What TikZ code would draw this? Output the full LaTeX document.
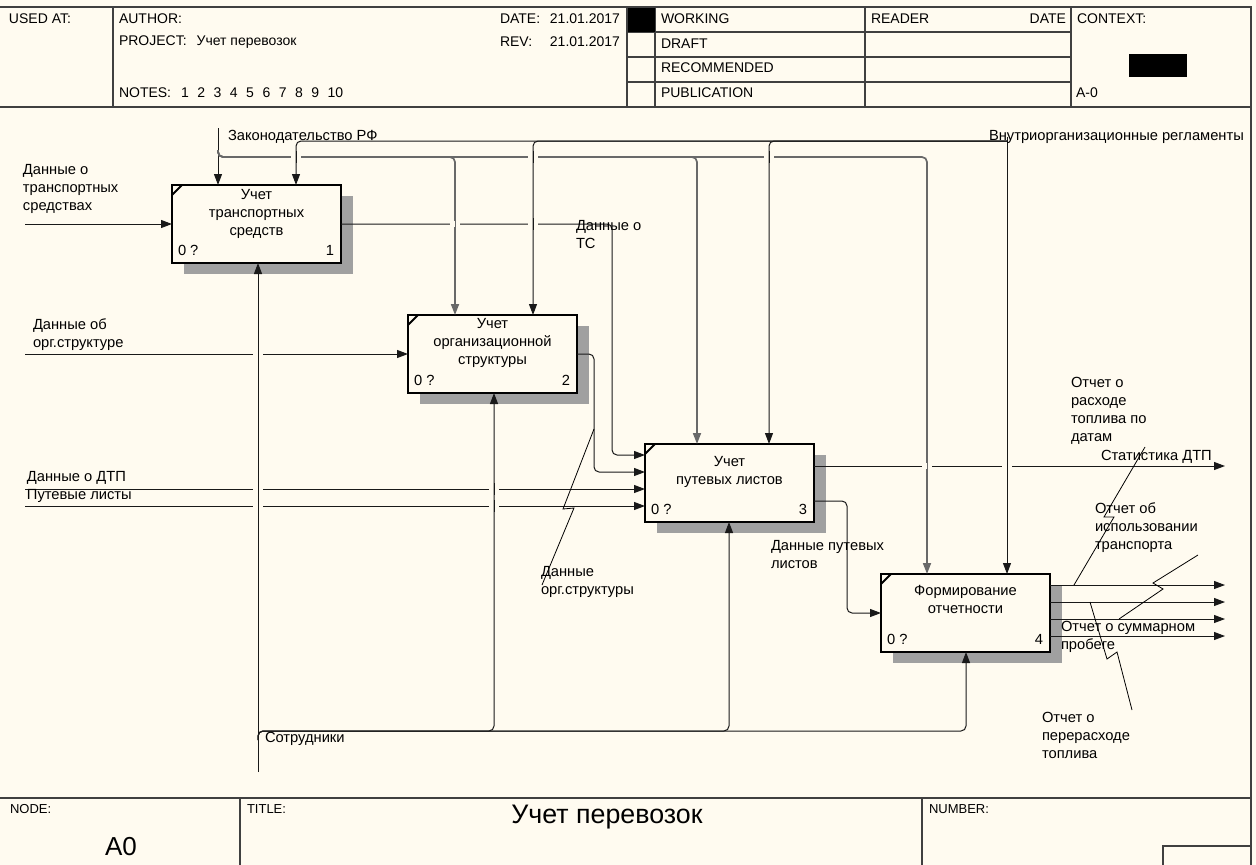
\documentclass[tikz,border=0pt]{standalone}
\usepackage{fontspec}
\setmainfont{Liberation Sans}
\usetikzlibrary{arrows.meta}
\definecolor{bg}{RGB}{255,251,240}
\definecolor{ln}{RGB}{25,25,25}
\definecolor{zk}{RGB}{105,105,105}
\definecolor{shd}{RGB}{160,160,160}
\newcommand\bridgeV[3][ln]{\fill[bg] (#2-5,#3-2.6) rectangle (#2+5,#3+2.6);\draw[draw=#1,line width=1pt] (#2,#3-6) -- (#2,#3+6);}
\tikzset{
  every node/.style={inner sep=0pt,outer sep=0pt},
  fnt/.style={font=\fontsize{14.7}{18}\selectfont},
  hfnt/.style={font=\fontsize{14}{18}\selectfont},
  lbl/.style={fnt,anchor=north west,align=left},
  hdr/.style={hfnt,anchor=west},
  box/.style={draw=black,line width=2pt,fill=bg,minimum width=169pt,minimum height=78pt},
  shadowfill/.style={fill=shd},
  arr/.style={draw=ln,line width=1pt,-{Triangle[length=11pt,width=8pt]},rounded corners=5pt},
  arrz/.style={draw=zk,line width=1.7pt,-{Triangle[length=11pt,width=8pt]},rounded corners=5pt},
  squig/.style={draw=black,line width=0.8pt},
  frame/.style={draw=black!75,line width=1.5pt},
}
\begin{document}
\begin{tikzpicture}[x=1pt,y=-1pt]
\useasboundingbox (0,0) rectangle (1256,865);
\fill[bg] (0,0) rectangle (1256,865);

% ---------- frame / header ----------
\draw[frame] (0,7) -- (1251,7) -- (1251,866);
\draw[frame] (0,107) -- (1251,107);
\draw[frame] (0,798) -- (1251,798);
\draw[frame] (113,7) -- (113,107);
\draw[frame] (627,7) -- (627,107);
\draw[frame] (655,7) -- (655,107);
\draw[frame] (865,7) -- (865,107);
\draw[frame] (1071,7) -- (1071,107);
\draw[frame] (627,32) -- (1071,32);
\draw[frame] (627,57) -- (1071,57);
\draw[frame] (627,82) -- (1071,82);
\fill[black] (628,8) rectangle (655,32);
\fill[black] (1129,54) rectangle (1187,77);
\draw[frame] (240,798) -- (240,866);
\draw[frame] (922,798) -- (922,866);
\draw[frame] (1163,866) -- (1163,846) -- (1251,846);

\node[hdr] (usedat) at (9,19) {USED AT:};
\node[hdr] (author) at (119,19) {AUTHOR:};
\node[hdr] (project) at (119,42) {PROJECT:\hspace{10pt}Учет перевозок};
\node[hdr] (notes) at (119,93) {NOTES:\hspace{10pt}1\hspace{8.5pt}2\hspace{8.5pt}3\hspace{8.5pt}4\hspace{8.5pt}5\hspace{8.5pt}6\hspace{8.5pt}7\hspace{8.5pt}8\hspace{8.5pt}9\hspace{8.5pt}10};
\node[hdr] (date) at (500,19) {DATE:};
\node[hfnt,anchor=east] (dateval) at (620,19) {21.01.2017};
\node[hdr] (rev) at (500,42) {REV:};
\node[hfnt,anchor=east] (revval) at (620,42) {21.01.2017};
\node[hdr] (working) at (661,19) {WORKING};
\node[hdr] (draft) at (661,44) {DRAFT};
\node[hdr] (recom) at (661,68) {RECOMMENDED};
\node[hdr] (publ) at (661,93) {PUBLICATION};
\node[hdr] (reader) at (871,19) {READER};
\node[hfnt,anchor=east] (rdate) at (1066,19) {DATE};
\node[hdr] (context) at (1077,19) {CONTEXT:};
\node[hdr] (actx) at (1076,93) {A-0};

\node[font=\fontsize{13}{16}\selectfont,anchor=west] (nodelbl) at (10,809) {NODE:};
\node[font=\fontsize{13}{16}\selectfont,anchor=west] (titlelbl) at (247,809) {TITLE:};
\node[font=\fontsize{13}{16}\selectfont,anchor=west] (numlbl) at (929,809) {NUMBER:};
\node[font=\fontsize{26}{30}\selectfont] (nodeval) at (121,847) {A0};
\node[font=\fontsize{26.8}{30}\selectfont] (titleval) at (607,817) {Учет перевозок};

% ---------- boxes ----------
\foreach \n/\x/\y in {b1/256.5/224, b2/492.5/354, b3/729.5/483, b4/965.5/613}{
  \fill[shadowfill] (\x-84.5+12,\y-39+11) rectangle (\x+84.5+12,\y+39+11);
}
\node[box] (b1) at (256.5,224) {};
\node[box] (b2) at (492.5,354) {};
\node[box] (b3) at (729.5,483) {};
\node[box] (b4) at (965.5,613) {};
\foreach \b in {b1,b2,b3,b4}{
  \draw[line width=1.8pt] ([shift={(0,10)}]\b.north west) -- ([shift={(10,0)}]\b.north west);
  \node[fnt,anchor=west] (\b zero) at ([shift={(6,-13)}]\b.south west) {0 ?};
}
\node[fnt,anchor=east] (b1num) at ([shift={(-7,-13)}]b1.south east) {1};
\node[fnt,anchor=east] (b2num) at ([shift={(-7,-13)}]b2.south east) {2};
\node[fnt,anchor=east] (b3num) at ([shift={(-7,-13)}]b3.south east) {3};
\node[fnt,anchor=east] (b4num) at ([shift={(-7,-13)}]b4.south east) {4};

\node[fnt,anchor=north,align=center] (t1) at (256.5,189.5) {Учет\\транспортных\\средств};
\node[fnt,anchor=north,align=center] (t2) at (492.5,318.5) {Учет\\организационной\\структуры};
\node[fnt,anchor=north,align=center] (t3) at (729.5,456.5) {Учет\\путевых листов};
\node[fnt,anchor=north,align=center] (t4) at (965.5,585.5) {Формирование\\отчетности};

% ---------- coordinates ----------
\coordinate (inTS) at (25,224);
\coordinate (inOrg) at (25,354);
\coordinate (inDTP) at (25,489);
\coordinate (inPL) at (25,506);
\coordinate (zkTop) at (218,128);
\coordinate (kz0) at (218,150);
\coordinate (kz) at (218,157);
\coordinate (k2) at (455,157);
\coordinate (k3) at (697,157);
\coordinate (k4) at (927,157);
\coordinate (vnTop) at (1007,137);
\coordinate (vn) at (1007,141);
\coordinate (v1) at (296,141);
\coordinate (v2) at (533,141);
\coordinate (v3) at (769,141);
\coordinate (mBot) at (258,772);
\coordinate (m00) at (258,740);
\coordinate (m0) at (258,731);
\coordinate (m2) at (494,731);
\coordinate (m3) at (729,731);
\coordinate (m4) at (966,731);
\coordinate (ts1) at (612,224);
\coordinate (ts2) at (612,455);
\coordinate (or1) at (594,354);
\coordinate (or2) at (594,472);
\coordinate (pl1) at (847,501);
\coordinate (pl2) at (847,613);
\coordinate (outDTP) at (1225,466);
\coordinate (o1) at (1225,585);
\coordinate (o2) at (1225,602);
\coordinate (o3) at (1225,619);
\coordinate (o4) at (1225,636);

% ---------- inputs ----------
\draw[arr] (inTS) -- (inTS -| b1.west);
\draw[arr] (inOrg) -- (inOrg -| b2.west);
\draw[arr] (inDTP) -- (inDTP -| b3.west);
\draw[arr] (inPL) -- (inPL -| b3.west);

% ---------- controls ----------
\draw[arr] (zkTop) -- (zkTop |- b1.north);
\draw[arrz] (kz0) -- (kz) -- (k2) -- (k2 |- b2.north);
\draw[arrz] (kz0) -- (kz) -- (k3) -- (k3 |- b3.north);
\draw[arrz] (kz0) -- (kz) -- (k4) -- (k4 |- b4.north);

% ---------- internal arrows ----------
\draw[arr] (b1.east) -- (ts1) -- (ts2) -- (ts2 -| b3.west);
\draw[arr] (b2.east) -- (or1) -- (or2) -- (or2 -| b3.west);
\draw[arr] (b3.east |- outDTP) -- (outDTP);
\draw[arr] (b3.east |- pl1) -- (pl1) -- (pl2) -- (pl2 -| b4.west);
\draw[arr] (b4.east |- o1) -- (o1);
\draw[arr] (b4.east |- o2) -- (o2);
\draw[arr] (b4.east |- o3) -- (o3);
\draw[arr] (b4.east |- o4) -- (o4);

% ---------- bridges over existing lines ----------
\bridgeV[zk]{455}{224}
\bridgeV[zk]{927}{466}
\bridgeV{258}{354}
\bridgeV{258}{489}
\bridgeV{258}{506}
\bridgeV{494}{489}
\bridgeV{494}{506}
\bridgeV{296}{157}
\bridgeV{533}{157}
\bridgeV{769}{157}
\bridgeV{533}{224}
\bridgeV{1007}{466}

% ---------- control 2 ----------
\draw[arr] (vnTop) -- (vnTop |- b4.north);
\draw[arr] (vn) -- (v1) -- (v1 |- b1.north);
\draw[arr] (vn) -- (v2) -- (v2 |- b2.north);
\draw[arr] (vn) -- (v3) -- (v3 |- b3.north);

% ---------- mechanism ----------
\draw[arr] (mBot) -- (mBot |- b1.south);
\draw[arr] (m00) -- (m0) -- (m2) -- (m2 |- b2.south);
\draw[arr] (m00) -- (m0) -- (m3) -- (m3 |- b3.south);
\draw[arr] (m00) -- (m0) -- (m4) -- (m4 |- b4.south);

% ---------- squiggles ----------
\draw[squig] (594,429) -- (563,509) -- (574,508) -- (542,585);
\draw[squig] (1145,447) -- (1104,517) -- (1114,517) -- (1074,585);
\draw[squig] (1198,555) -- (1153,583) -- (1163,589) -- (1119,619);
\draw[squig] (1090,602) -- (1107,659) -- (1117,652) -- (1132,710);

% ---------- labels ----------
\node[lbl] (lTS) at (23,164.5) {Данные о\\транспортных\\средствах};
\node[lbl] (lOrg) at (33,318.5) {Данные об\\орг.структуре};
\node[lbl] (lDTP) at (27,471.5) {Данные о ДТП};
\node[lbl] (lPL) at (27,489.5) {Путевые листы};
\node[lbl] (lZak) at (228,130) {Законодательство РФ};
\node[lbl] (lVn) at (989,130.5) {Внутриорганизационные регламенты};
\node[lbl] (lTSout) at (576,220.5) {Данные о\\ТС};
\node[lbl] (lPLout) at (771,540.5) {Данные путевых\\листов};
\node[lbl] (lOrgOut) at (541,566.5) {Данные\\орг.структуры};
\node[lbl] (lMech) at (265,732) {Сотрудники};
\node[lbl] (lR1) at (1071,377.5) {Отчет о\\расходе\\топлива по\\датам};
\node[lbl] (lStat) at (1101,450.5) {Статистика ДТП};
\node[lbl] (lR3) at (1095,502.5) {Отчет об\\использовании\\транспорта};
\node[lbl] (lR4) at (1061,621.5) {Отчет о суммарном\\пробеге};
\node[lbl] (lR2) at (1042,712.5) {Отчет о\\перерасходе\\топлива};
\end{tikzpicture}
\end{document}
